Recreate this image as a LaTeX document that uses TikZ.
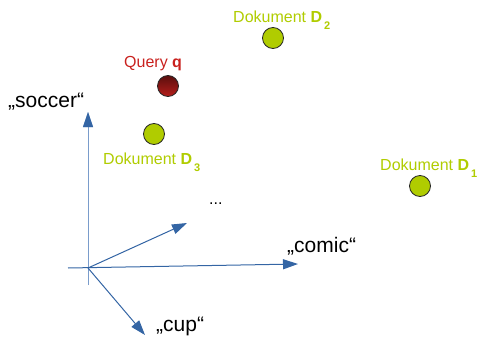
\documentclass[tikz,border=0pt]{standalone}
\usepackage{fontspec}
\setmainfont{Liberation Sans}
\usetikzlibrary{arrows.meta}
\definecolor{docgreen}{HTML}{B0CC00}
\definecolor{qred}{HTML}{C9211E}
\definecolor{axblue}{HTML}{3465A4}
\definecolor{axlight}{HTML}{7A9CCB}
\newcommand{\dsub}[1]{\kern2pt\raisebox{-7pt}{\fontsize{11}{12}\selectfont\textbf{#1}}}
\tikzset{
  doc/.style={circle,draw=black!85,line width=0.8pt,fill=docgreen,minimum size=21pt,inner sep=0pt},
  qry/.style={circle,draw=black!85,line width=0.8pt,top color=qred!45!black,bottom color=qred!90!black,minimum size=21pt,inner sep=0pt},
  doclabel/.style={text=docgreen,font=\fontsize{16}{18}\selectfont,inner sep=0pt},
  qlabel/.style={text=qred,font=\fontsize{16}{18}\selectfont,inner sep=0pt},
  axlabel/.style={text=black,font=\fontsize{21}{24}\selectfont,inner sep=0pt},
  axis/.style={draw=axblue,line width=1pt,-{Triangle[length=15pt,width=10pt]}},
}
\begin{document}
\begin{tikzpicture}[x=1pt,y=-1pt]
\useasboundingbox (0,0) rectangle (487,337);
% points
\node[doc] (d2) at (273,38) {};
\node[qry] (q) at (168,86) {};
\node[doc] (d3) at (154,134) {};
\node[doc] (d1) at (420,186) {};
% labels
\node[doclabel,anchor=base west] (l2) at (233,23) {Dokument \textbf{D}\dsub{2}};
\node[qlabel,anchor=base west] (lq) at (124,67) {Query \textbf{q}};
\node[doclabel,anchor=base west] (l3) at (103,164) {Dokument \textbf{D}\dsub{3}};
\node[doclabel,anchor=base west] (l1) at (380,170) {Dokument \textbf{D}\dsub{1}};
% axes
\coordinate (o) at (88,268);
\coordinate (vb) at (88,285);
\coordinate (vt) at (88,112);
\coordinate (hl) at (68,268);
\coordinate (hr) at (298,264);
\coordinate (dt) at (187,223);
\coordinate (ct) at (145,335);
\draw[axis,draw=axlight] (vb) -- (vt);
\path[fill=axblue] (vt) -- ++(-5,15) -- ++(10,0) -- cycle;
\draw[axis] (hl) -- (hr);
\draw[axis] (o) -- (dt);
\draw[axis] (o) -- (ct);
\node[axlabel,anchor=base west] (soc) at (8,107) {„soccer“};
\node[axlabel,anchor=base west] (com) at (287,252) {„comic“};
\node[axlabel,anchor=base west] (cup) at (156,331) {„cup“};
\node[axlabel,font=\fontsize{16}{18}\selectfont,anchor=base west] (dots) at (209,204) {...};
\end{tikzpicture}
\end{document}
